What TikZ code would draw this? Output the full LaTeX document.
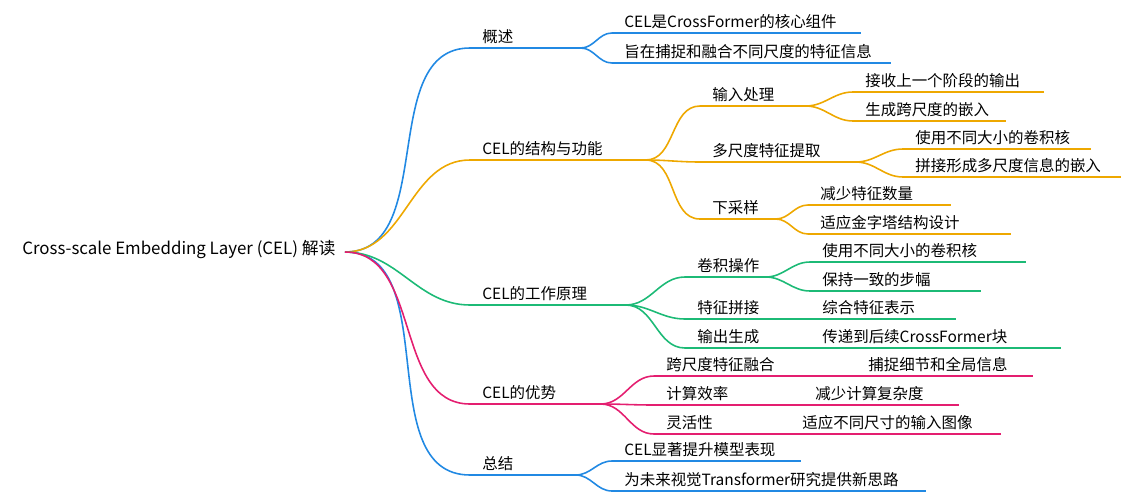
\documentclass[tikz,border=0pt]{standalone}
\usepackage{fontspec}
\setmainfont{Noto Sans CJK SC}
\usetikzlibrary{positioning}
\definecolor{cblue}{RGB}{33,137,227}
\definecolor{corange}{RGB}{238,168,0}
\definecolor{cgreen}{RGB}{28,186,118}
\definecolor{cpink}{RGB}{228,30,112}
\begin{document}
\begin{tikzpicture}[x=0.2mm, y=-0.2mm, font=\fontsize{8.8}{10}\selectfont,
  ul/.style={anchor=south west, inner xsep=12*0.2mm, inner ysep=2*0.2mm,
    text width=(#1-24)*0.2mm, align=left, text height=8pt, text depth=2pt},
  line/.style={line width=0.9pt},
  link/.style={line width=0.9pt, out=0, in=180}]
\useasboundingbox (0,0) rectangle (1135,500);
\node[anchor=west, inner sep=0, font=\fontsize{9.6}{11}\selectfont] (root) at (22,250) {Cross-scale Embedding Layer (CEL) 解读};
\coordinate (r) at (345,252);

% level one
\node[ul=110] (gs) at (470,48) {概述};
\node[ul=175] (jg) at (470,160) {CEL的结构与功能};
\node[ul=155] (yl) at (470,305) {CEL的工作原理};
\node[ul=130] (ys) at (470,404) {CEL的优势};
\node[ul=105] (zj) at (470,475) {总结};

% level two
\node[ul=248] (gs1) at (612,33) {CEL是CrossFormer的核心组件};
\node[ul=278] (gs2) at (612,63) {旨在捕捉和融合不同尺度的特征信息};

\node[ul=105] (sr) at (700,106) {输入处理};
\node[ul=155] (dc) at (700,162) {多尺度特征提取};
\node[ul=75] (xc) at (700,219) {下采样};
\node[ul=190] (sr1) at (853,92) {接收上一个阶段的输出};
\node[ul=152] (sr2) at (853,121) {生成跨尺度的嵌入};
\node[ul=187] (dc1) at (903,149) {使用不同大小的卷积核};
\node[ul=217] (dc2) at (903,177) {拼接形成多尺度信息的嵌入};
\node[ul=142] (xc1) at (808,205) {减少特征数量};
\node[ul=202] (xc2) at (808,234) {适应金字塔结构设计};

\node[ul=80] (jj) at (685,277) {卷积操作};
\node[ul=125] (tz) at (685,319) {特征拼接};
\node[ul=125] (sc) at (685,348) {输出生成};
\node[ul=215] (jj1) at (810,262) {使用不同大小的卷积核};
\node[ul=170] (jj2) at (810,291) {保持一致的步幅};
\node[ul=145] (tz1) at (810,319) {综合特征表示};
\node[ul=250] (sc1) at (810,348) {传递到后续CrossFormer块};

\node[ul=200] (kc) at (654,376) {跨尺度特征融合};
\node[ul=135] (js) at (654,405) {计算效率};
\node[ul=120] (lh) at (654,434) {灵活性};
\node[ul=176] (kc1) at (856,376) {捕捉细节和全局信息};
\node[ul=155] (js1) at (803,405) {减少计算复杂度};
\node[ul=210] (lh1) at (790,434) {适应不同尺寸的输入图像};

\node[ul=188] (zj1) at (612,461) {CEL显著提升模型表现};
\node[ul=313] (zj2) at (612,491) {为未来视觉Transformer研究提供新思路};

% underlines
\foreach \n/\c in {gs/cblue,gs1/cblue,gs2/cblue,zj/cblue,zj1/cblue,zj2/cblue,
  jg/corange,sr/corange,dc/corange,xc/corange,sr1/corange,sr2/corange,dc1/corange,dc2/corange,xc1/corange,xc2/corange,
  yl/cgreen,jj/cgreen,tz/cgreen,sc/cgreen,jj1/cgreen,jj2/cgreen,tz1/cgreen,sc1/cgreen,
  ys/cpink,kc/cpink,js/cpink,lh/cpink,kc1/cpink,js1/cpink,lh1/cpink}
  \draw[line, \c] (\n.south west) -- (\n.south east);

% links
\foreach \a/\b/\c in {r/gs/cblue,r/zj/cblue,r/jg/corange,r/yl/cgreen,r/ys/cpink,
  gs/gs1/cblue,gs/gs2/cblue,zj/zj1/cblue,zj/zj2/cblue,
  jg/sr/corange,jg/dc/corange,jg/xc/corange,sr/sr1/corange,sr/sr2/corange,
  dc/dc1/corange,dc/dc2/corange,xc/xc1/corange,xc/xc2/corange,
  yl/jj/cgreen,yl/tz/cgreen,yl/sc/cgreen,jj/jj1/cgreen,jj/jj2/cgreen,tz/tz1/cgreen,sc/sc1/cgreen,
  ys/kc/cpink,ys/js/cpink,ys/lh/cpink,kc/kc1/cpink,js/js1/cpink,lh/lh1/cpink}
  \draw[link, \c] (\a.south east) to (\b.south west);
\end{tikzpicture}
\end{document}
